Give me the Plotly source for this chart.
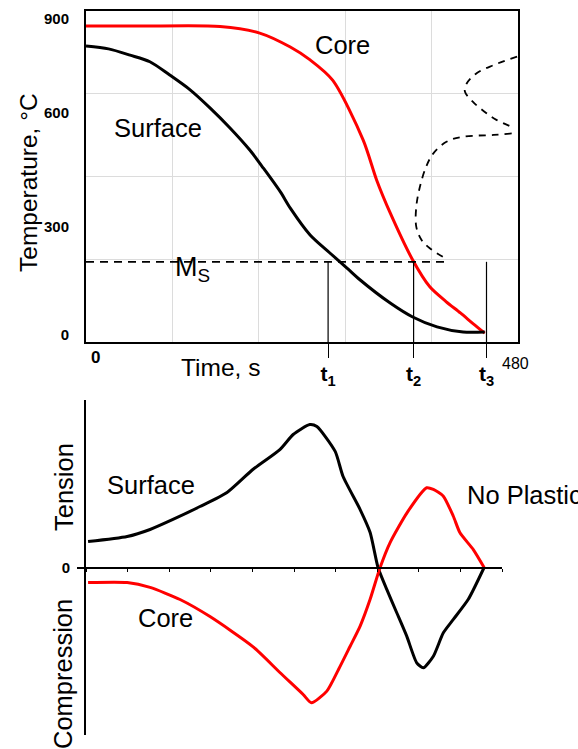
import plotly.graph_objects as go

# --- top panel: cooling curves (time in s, temperature in °C) ---
core_time = [0, 60, 149, 193, 227, 249, 274, 308, 323, 338, 363, 382, 400, 416, 430, 443]
core_temp = [859, 859, 858, 840, 802, 767, 712, 549, 440, 351, 223, 150, 110, 79, 50, 24]

surf_time = [0, 25, 49, 71, 93, 116, 138, 160, 182, 197, 216, 227, 249, 271, 290, 304,
             338, 363, 390, 419, 443]
surf_temp = [805, 797, 780, 762, 726, 685, 636, 582, 522, 473, 408, 364, 291, 242, 201, 170,
             106, 68, 41, 27, 27]

# TTT curves (dashed)
ttt_upper_time = [479, 453, 434, 423, 421, 430, 445, 456, 473]
ttt_upper_temp = [776, 753, 731, 703, 681, 653, 622, 604, 585]
ttt_lower_time = [473, 453, 419, 401, 386, 378, 371, 367, 367, 373, 382, 401]
ttt_lower_temp = [567, 563, 558, 545, 513, 477, 422, 368, 313, 277, 255, 225]

ms_time = [0, 404]
ms_temp = [218, 218]

t_marks = [269, 364, 445]
t_labels = ["t<sub>1</sub>", "t<sub>2</sub>", "t<sub>3</sub>"]

ytick_pos = [878, 622, 313, 19]
ytick_text = ["900", "600", "300", "0"]

# --- bottom panel: residual stress (arbitrary units) ---
surf_x = [0.05, 0.99, 1.54, 2.09, 2.74, 3.39, 4.01, 4.66, 4.98, 5.38, 5.55, 5.99, 6.18,
          6.59, 6.83, 7.02, 7.23, 7.47, 7.71, 7.95, 8.11, 8.35, 8.59, 8.83, 9.19, 9.57]
surf_s = [0.155, 0.185, 0.227, 0.287, 0.364, 0.448, 0.585, 0.704, 0.794, 0.854, 0.842, 0.693,
          0.543, 0.346, 0.209, 0.0, -0.131, -0.27, -0.41, -0.569, -0.599, -0.53, -0.39, -0.31,
          -0.19, 0.0]

core_x = [0.05, 0.99, 1.54, 2.26, 2.98, 4.01, 4.66, 5.22, 5.42, 5.79, 6.07, 6.35, 6.59, 6.83,
          7.07, 7.31, 7.72, 8.19, 8.35, 8.59, 8.83, 8.99, 9.31, 9.57]
core_s = [-0.09, -0.09, -0.119, -0.191, -0.293, -0.472, -0.627, -0.758, -0.808, -0.738, -0.609,
          -0.47, -0.35, -0.19, 0.0, 0.149, 0.328, 0.476, 0.466, 0.426, 0.306, 0.207, 0.107, 0.0]

W, H = 578, 749
FONT = "Arial, Liberation Sans, sans-serif"


def px_x(p):
    return p / W


def px_y(p):
    return 1 - p / H


fig = go.Figure()

line_top = dict(xaxis="x", yaxis="y")
fig.add_trace(go.Scatter(x=core_time, y=core_temp, mode="lines",
                         line=dict(color="#ff0000", width=3, shape="spline", smoothing=0.8), **line_top))
fig.add_trace(go.Scatter(x=surf_time, y=surf_temp, mode="lines",
                         line=dict(color="black", width=3, shape="spline", smoothing=0.8), **line_top))
for tx, ty in [(ttt_upper_time, ttt_upper_temp), (ttt_lower_time, ttt_lower_temp)]:
    fig.add_trace(go.Scatter(x=tx, y=ty, mode="lines",
                             line=dict(color="black", width=1.8, dash="7px,6px", shape="spline"), **line_top))
fig.add_trace(go.Scatter(x=ms_time, y=ms_temp, mode="lines",
                         line=dict(color="black", width=1.8, dash="8px,6px"), **line_top))
for t in t_marks:
    fig.add_trace(go.Scatter(x=[t, t], y=[0, ms_temp[0]], mode="lines",
                             line=dict(color="black", width=1.2), **line_top))

line_bot = dict(xaxis="x2", yaxis="y2")
fig.add_trace(go.Scatter(x=surf_x, y=surf_s, mode="lines",
                         line=dict(color="black", width=3, shape="spline", smoothing=0.6), **line_bot))
fig.add_trace(go.Scatter(x=core_x, y=core_s, mode="lines",
                         line=dict(color="#ff0000", width=3, shape="spline", smoothing=0.6), **line_bot))

top_xdom = [px_x(86), px_x(518)]
top_ydom = [px_y(342), px_y(11)]
bot_xdom = [px_x(86), px_x(502)]
bot_ydom = [px_y(735), px_y(400)]

fig.update_layout(
    width=W, height=H,
    margin=dict(l=0, r=0, t=0, b=0),
    paper_bgcolor="white", plot_bgcolor="white",
    showlegend=False,
    font=dict(family=FONT, color="black"),
    xaxis=dict(domain=top_xdom, range=[0, 480], anchor="y",
               showline=True, linewidth=2, linecolor="black", mirror=True,
               tickvals=t_marks, ticktext=["<b>%s</b>" % s for s in t_labels],
               ticks="outside", ticklen=14, tickwidth=1.2, tickcolor="black",
               ticklabelstandoff=-2,
               tickfont=dict(size=21, family=FONT), showgrid=False, zeroline=False,
               minor=dict(tickvals=[96, 192, 288, 384], showgrid=True,
                          gridcolor="#dcdcdc", gridwidth=1, ticks=""),
               automargin=False),
    yaxis=dict(domain=top_ydom, range=[0, 900], anchor="x",
               showline=True, linewidth=2, linecolor="black", mirror=True,
               tickvals=ytick_pos, ticktext=["<b>%s</b>" % s for s in ytick_text],
               ticks="", ticklabelstandoff=12,
               tickfont=dict(size=15, family=FONT), showgrid=False, zeroline=False,
               minor=dict(tickvals=[225, 450, 675], showgrid=True,
                          gridcolor="#dcdcdc", gridwidth=1, ticks=""),
               automargin=False),
    xaxis2=dict(domain=bot_xdom, range=[0, 10], anchor="free",
                position=(bot_ydom[0] + bot_ydom[1]) / 2,
                showline=True, linewidth=2, linecolor="black",
                dtick=1, tick0=0, ticks="outside", ticklen=3, tickwidth=1, tickcolor="black",
                showticklabels=False, showgrid=False, zeroline=False, automargin=False),
    yaxis2=dict(domain=bot_ydom, range=[-1, 1], anchor="x2",
                showline=True, linewidth=2, linecolor="black",
                tickvals=[0], ticktext=["<b>0</b>"], ticks="outside", ticklen=7,
                tickwidth=2, tickcolor="black", tickfont=dict(size=15, family=FONT),
                ticklabelstandoff=4,
                showgrid=False, zeroline=False, automargin=False),
)

big = dict(size=24.5, family=FONT, color="black")
label = dict(size=25.5, family=FONT, color="black")
c = dict(xanchor="center", yanchor="middle", showarrow=False)
annotations = [
    # top panel
    dict(x=285, y=808, xref="x", yref="y", text="Core", font=label, **c),
    dict(x=80, y=582, xref="x", yref="y", text="Surface", font=label, **c),
    dict(x=118, y=198, xref="x", yref="y", text="M<sub>S</sub>",
         font=dict(size=27, family=FONT, color="black"), **c),
    dict(x=px_x(220), y=px_y(367), xref="paper", yref="paper", text="Time, s", font=big, **c),
    dict(x=px_x(95), y=px_y(358), xref="paper", yref="paper", text="<b>0</b>",
         font=dict(size=17, family=FONT, color="black"), **c),
    dict(x=px_x(515), y=px_y(363), xref="paper", yref="paper", text="480",
         font=dict(size=16, family=FONT, color="black"), **c),
    dict(x=px_x(28), y=px_y(183), xref="paper", yref="paper", text="Temperature, °C",
         textangle=-90, font=big, **c),
    # bottom panel
    dict(x=1.56, y=0.49, xref="x2", yref="y2", text="Surface", font=label, **c),
    dict(x=1.90, y=-0.30, xref="x2", yref="y2", text="Core", font=label, **c),
    dict(x=9.11, y=0.43, xref="x2", yref="y2", text="No Plastic", xanchor="left",
         yanchor="middle", showarrow=False, font=label),
    dict(x=px_x(64), y=px_y(487), xref="paper", yref="paper", text="Tension",
         textangle=-90, font=label, **c),
    dict(x=px_x(63), y=px_y(674), xref="paper", yref="paper", text="Compression",
         textangle=-90, font=label, **c),
]
fig.update_layout(annotations=annotations)

# page body has an 8px default margin; drop it so the figure sits at the window corner
fig.write_html("out.html", config={"displayModeBar": False},
               post_script="document.body.style.margin='0';")
